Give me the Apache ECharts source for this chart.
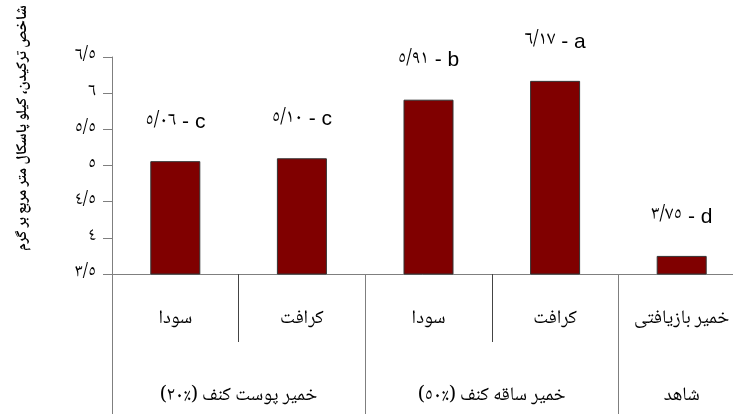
<!DOCTYPE html>
<html>
<head>
<meta charset="utf-8">
<script src="https://cdn.jsdelivr.net/npm/echarts@6/dist/echarts.min.js"></script>
<style>html,body{margin:0;padding:0;background:#fff}#c{width:733px;height:414px}</style>
</head>
<body>
<div id="c"></div>
<script>
// ---- data ----
const categories = ['سودا', 'کرافت', 'سودا', 'کرافت', 'خمیر بازیافتی'];
const values = [5.06, 5.10, 5.91, 6.17, 3.75];
const valueTexts = ['٥/٠٦', '٥/١٠', '٥/٩١', '٦/١٧', '٣/٧٥'];
const letters = ['c', 'c', 'b', 'a', 'd'];
const groupLabels = ['خمیر پوست کنف \u202A(٢٠٪)\u202C', 'خمیر ساقه کنف \u202A(٥٠٪)\u202C', 'شاهد'];
const groupSizes = [2, 2, 1];
const yTickValues = [3.5, 4, 4.5, 5, 5.5, 6, 6.5];
const yTickLabels = ['٣/٥', '٤', '٤/٥', '٥', '٥/٥', '٦', '٦/٥'];
const yAxisTitle = 'شاخص ترکیدن، کیلو پاسکال متر مربع بر گرم';

// ---- derived ----
const groupBounds = [0];
const groupCenters = [];
groupSizes.forEach(function (s) {
  const start = groupBounds[groupBounds.length - 1];
  groupCenters.push(start + s / 2);
  groupBounds.push(start + s);
});
function rtl(s) { return '\u202B' + s + '\u202C'; }

const FONT = "'Noto Naskh Arabic','Noto Sans Arabic','DejaVu Sans',sans-serif";
const LINE = '#7f7f7f';

const chart = echarts.init(document.getElementById('c'), null, { renderer: 'canvas' });
chart.setOption({
  animation: false,
  backgroundColor: '#fff',
  grid: { left: 112, top: 57, width: 633, height: 217, containLabel: false, outerBoundsMode: 'none' },
  xAxis: [
    {
      type: 'category',
      data: categories,
      position: 'bottom',
      axisLine: { show: true, lineStyle: { color: LINE, width: 1 } },
      axisTick: { show: true, interval: 0, length: 68, lineStyle: { color: '#444', width: 1 } },
      axisLabel: {
        interval: 0, margin: 37, color: '#000', fontSize: 19, fontFamily: FONT,
        formatter: function (v) { return rtl(v); }
      },
      splitLine: { show: false }
    },
    {
      type: 'value',
      min: 0,
      max: groupBounds[groupBounds.length - 1],
      position: 'bottom',
      axisLine: { show: false },
      splitLine: { show: false },
      axisTick: { show: true, customValues: groupBounds, length: 140, lineStyle: { color: LINE, width: 1 } },
      axisLabel: {
        customValues: groupCenters, margin: 114, color: '#000', fontSize: 19, fontFamily: FONT,
        formatter: function (v) {
          const i = groupCenters.indexOf(v);
          return i >= 0 ? rtl(groupLabels[i]) : '';
        }
      }
    }
  ],
  yAxis: {
    type: 'value',
    min: 3.5,
    max: 6.5,
    interval: 0.5,
    axisLine: { show: true, lineStyle: { color: LINE, width: 1 } },
    axisTick: { show: true, length: 9, lineStyle: { color: LINE, width: 1 } },
    splitLine: { show: false },
    axisLabel: {
      margin: 16, color: '#000', fontSize: 18, fontFamily: FONT,
      formatter: function (v) {
        const i = yTickValues.indexOf(Math.round(v * 100) / 100);
        return i >= 0 ? yTickLabels[i] : '';
      }
    }
  },
  graphic: [{
    type: 'text',
    x: 24,
    y: 128,
    rotation: Math.PI / 2,
    style: {
      text: rtl(yAxisTitle),
      align: 'center',
      verticalAlign: 'middle',
      font: "bold 15px " + FONT,
      fill: '#000'
    }
  }],
  series: [{
    type: 'bar',
    xAxisIndex: 0,
    yAxisIndex: 0,
    data: values,
    barWidth: 50,
    itemStyle: { color: '#800000', borderColor: '#333', borderWidth: 1 },
    label: {
      show: true,
      position: 'top',
      distance: 27,
      formatter: function (p) {
        return '{n|' + valueTexts[p.dataIndex] + '}{l| - ' + letters[p.dataIndex] + '}';
      },
      rich: {
        n: { fontSize: 19, fontFamily: FONT, color: '#000', lineHeight: 24 },
        l: { fontSize: 21, fontFamily: "'Liberation Sans',Arial,sans-serif", color: '#000', lineHeight: 24 }
      }
    }
  }]
});
</script>
</body>
</html>
